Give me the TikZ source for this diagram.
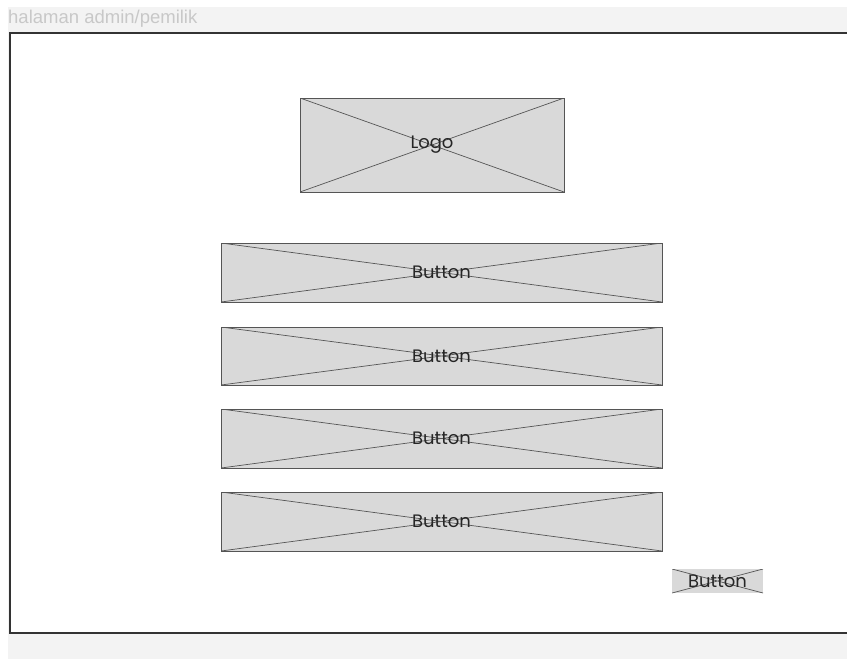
\documentclass[tikz,border=0pt]{standalone}
\usepackage{fontspec}
\setmainfont{Poppins}
\newfontfamily\titlefont{Liberation Sans}
\definecolor{pagebg}{HTML}{F3F3F3}
\definecolor{boxfill}{HTML}{D9D9D9}
\definecolor{boxline}{HTML}{555555}
\definecolor{titlegray}{HTML}{C8C8C8}
\begin{document}
\begin{tikzpicture}[x=1pt,y=-1pt,
  placeholder/.style={draw=boxline, fill=boxfill, line width=1pt, inner sep=0pt,
    font=\fontsize{18}{20}\selectfont, text=black!85,
    path picture={\draw[boxline, line width=0.7pt]
      (path picture bounding box.north west) -- (path picture bounding box.south east)
      (path picture bounding box.south west) -- (path picture bounding box.north east);}}]
  \useasboundingbox (0,0) rectangle (847,659);
  \fill[white] (0,0) rectangle (847,659);
  \fill[pagebg] (8,7) rectangle (847,659);
  \node[anchor=west, font=\titlefont\fontsize{18.5}{20}\selectfont, text=titlegray, inner sep=0pt] (title) at (8,19) {halaman admin/pemilik};
  \draw[line width=2pt, draw=black!80, fill=white] (10,33) rectangle (849,633);
  \node[placeholder, minimum width=264pt, minimum height=94pt] (logo) at (432,145) {Logo};
  \node[placeholder, minimum width=441pt, minimum height=59pt] (b1) at (441.5,272.5) {Button};
  \node[placeholder, minimum width=441pt, minimum height=58pt] (b2) at (441.5,356) {Button};
  \node[placeholder, minimum width=441pt, minimum height=59pt] (b3) at (441.5,438.5) {Button};
  \node[placeholder, minimum width=441pt, minimum height=59pt] (b4) at (441.5,521.5) {Button};
  \node[placeholder, draw=none, minimum width=91pt, minimum height=24pt] (b5) at (717.5,581) {Button};
\end{tikzpicture}
\end{document}
